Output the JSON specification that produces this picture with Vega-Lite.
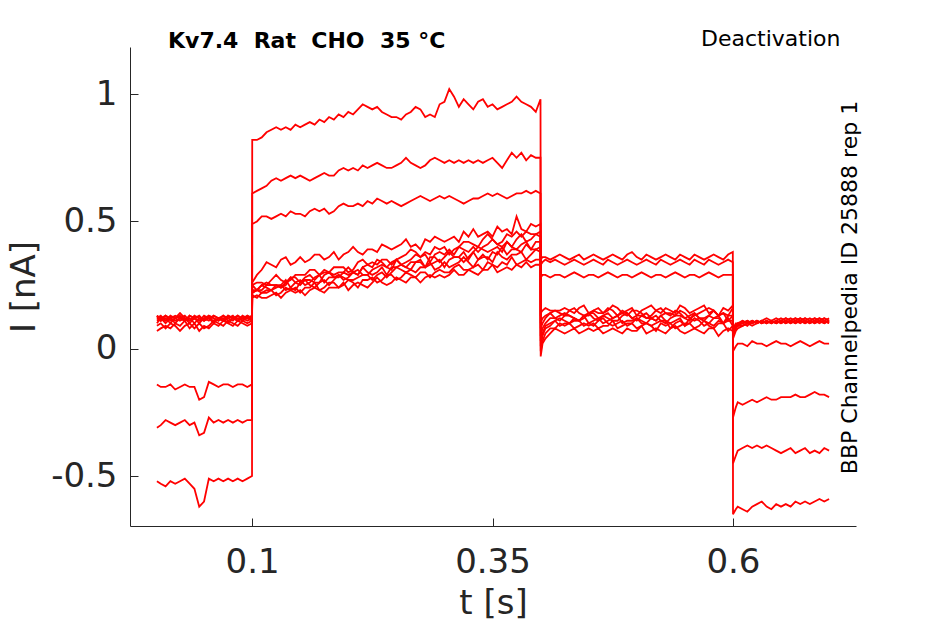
{
  "$schema": "https://vega.github.io/schema/vega-lite/v6.json",
  "description": "Kv7.4 deactivation current traces",
  "width": 726,
  "height": 479,
  "autosize": {"type": "none"},
  "padding": {"left": 130, "top": 47, "right": 89, "bottom": 98},
  "background": "white",
  "config": {
    "view": {"stroke": null},
    "font": "DejaVu Sans",
    "axis": {"grid": false}
  },
  "title": {
    "text": "Kv7.4\u00a0\u00a0Rat\u00a0\u00a0CHO\u00a0\u00a035\u00a0°C",
    "anchor": "start",
    "frame": "group",
    "dx": 38,
    "offset": -43,
    "baseline": "alphabetic",
    "font": "DejaVu Sans",
    "fontSize": 22,
    "fontWeight": "bold",
    "color": "black"
  },
  "data": {
    "values": [
      {"t":0.001,"a":-0.52,"b":-0.31,"c":-0.14,"d":0.12,"e":0.13,"f":0.11,"g":0.12,"h":0.10,"i":0.13,"j":0.07,"k":0.09},
      {"t":0.005,"a":-0.53,"b":-0.30,"c":-0.15,"d":0.13,"e":0.12,"f":0.12,"g":0.11,"h":0.12,"i":0.11,"j":0.08,"k":0.10},
      {"t":0.01,"a":-0.54,"b":-0.28,"c":-0.15,"d":0.11,"e":0.13,"f":0.10,"g":0.13,"h":0.11,"i":0.12,"j":0.09,"k":0.08},
      {"t":0.015,"a":-0.52,"b":-0.29,"c":-0.14,"d":0.12,"e":0.11,"f":0.12,"g":0.12,"h":0.13,"i":0.10,"j":0.08,"k":0.10},
      {"t":0.02,"a":-0.53,"b":-0.30,"c":-0.16,"d":0.13,"e":0.12,"f":0.11,"g":0.10,"h":0.12,"i":0.12,"j":0.10,"k":0.09},
      {"t":0.025,"a":-0.52,"b":-0.29,"c":-0.15,"d":0.12,"e":0.14,"f":0.12,"g":0.12,"h":0.11,"i":0.13,"j":0.09,"k":0.07},
      {"t":0.03,"a":-0.51,"b":-0.28,"c":-0.14,"d":0.11,"e":0.12,"f":0.13,"g":0.11,"h":0.12,"i":0.11,"j":0.11,"k":0.09},
      {"t":0.035,"a":-0.53,"b":-0.30,"c":-0.15,"d":0.13,"e":0.11,"f":0.11,"g":0.13,"h":0.10,"i":0.12,"j":0.08,"k":0.10},
      {"t":0.04,"a":-0.55,"b":-0.29,"c":-0.15,"d":0.12,"e":0.13,"f":0.12,"g":0.12,"h":0.12,"i":0.10,"j":0.10,"k":0.08},
      {"t":0.045,"a":-0.62,"b":-0.34,"c":-0.20,"d":0.11,"e":0.12,"f":0.10,"g":0.11,"h":0.13,"i":0.12,"j":0.07,"k":0.10},
      {"t":0.05,"a":-0.60,"b":-0.33,"c":-0.19,"d":0.12,"e":0.11,"f":0.12,"g":0.13,"h":0.11,"i":0.11,"j":0.09,"k":0.08},
      {"t":0.055,"a":-0.51,"b":-0.27,"c":-0.13,"d":0.13,"e":0.12,"f":0.11,"g":0.12,"h":0.12,"i":0.13,"j":0.08,"k":0.09},
      {"t":0.06,"a":-0.52,"b":-0.29,"c":-0.14,"d":0.12,"e":0.13,"f":0.13,"g":0.11,"h":0.10,"i":0.12,"j":0.10,"k":0.11},
      {"t":0.065,"a":-0.51,"b":-0.28,"c":-0.15,"d":0.11,"e":0.12,"f":0.12,"g":0.12,"h":0.12,"i":0.11,"j":0.09,"k":0.10},
      {"t":0.07,"a":-0.52,"b":-0.29,"c":-0.14,"d":0.13,"e":0.11,"f":0.11,"g":0.13,"h":0.11,"i":0.12,"j":0.11,"k":0.09},
      {"t":0.075,"a":-0.51,"b":-0.28,"c":-0.14,"d":0.12,"e":0.13,"f":0.12,"g":0.11,"h":0.13,"i":0.10,"j":0.10,"k":0.11},
      {"t":0.08,"a":-0.52,"b":-0.29,"c":-0.15,"d":0.11,"e":0.12,"f":0.13,"g":0.12,"h":0.12,"i":0.12,"j":0.09,"k":0.10},
      {"t":0.085,"a":-0.51,"b":-0.28,"c":-0.14,"d":0.13,"e":0.11,"f":0.11,"g":0.12,"h":0.11,"i":0.13,"j":0.11,"k":0.09},
      {"t":0.09,"a":-0.52,"b":-0.29,"c":-0.14,"d":0.12,"e":0.13,"f":0.12,"g":0.11,"h":0.12,"i":0.11,"j":0.10,"k":0.11},
      {"t":0.095,"a":-0.51,"b":-0.28,"c":-0.15,"d":0.11,"e":0.12,"f":0.13,"g":0.13,"h":0.12,"i":0.12,"j":0.09,"k":0.10},
      {"t":0.0999,"a":-0.50,"b":-0.28,"c":-0.14,"d":0.12,"e":0.13,"f":0.12,"g":0.12,"h":0.11,"i":0.12,"j":0.10,"k":0.11},
      {"t":0.1001,"a":0.82,"b":0.61,"c":0.49,"d":0.26,"e":0.25,"f":0.25,"g":0.23,"h":0.22,"i":0.22,"j":0.21,"k":0.20},
      {"t":0.105,"a":0.82,"b":0.62,"c":0.50,"d":0.29,"e":0.26,"f":0.23,"g":0.23,"h":0.23,"i":0.23,"j":0.20,"k":0.21},
      {"t":0.11,"a":0.83,"b":0.63,"c":0.52,"d":0.31,"e":0.26,"f":0.25,"g":0.23,"h":0.25,"i":0.22,"j":0.22,"k":0.20},
      {"t":0.115,"a":0.85,"b":0.64,"c":0.52,"d":0.34,"e":0.25,"f":0.26,"g":0.25,"h":0.24,"i":0.23,"j":0.22,"k":0.20},
      {"t":0.12,"a":0.86,"b":0.66,"c":0.51,"d":0.33,"e":0.27,"f":0.25,"g":0.25,"h":0.23,"i":0.23,"j":0.23,"k":0.21},
      {"t":0.125,"a":0.87,"b":0.67,"c":0.52,"d":0.32,"e":0.29,"f":0.25,"g":0.25,"h":0.25,"i":0.24,"j":0.21,"k":0.22},
      {"t":0.13,"a":0.86,"b":0.66,"c":0.53,"d":0.35,"e":0.27,"f":0.24,"g":0.24,"h":0.25,"i":0.25,"j":0.22,"k":0.20},
      {"t":0.135,"a":0.87,"b":0.67,"c":0.52,"d":0.36,"e":0.26,"f":0.26,"g":0.25,"h":0.27,"i":0.23,"j":0.24,"k":0.22},
      {"t":0.14,"a":0.86,"b":0.68,"c":0.54,"d":0.33,"e":0.27,"f":0.28,"g":0.28,"h":0.24,"i":0.24,"j":0.23,"k":0.23},
      {"t":0.145,"a":0.88,"b":0.67,"c":0.53,"d":0.34,"e":0.29,"f":0.28,"g":0.26,"h":0.26,"i":0.23,"j":0.24,"k":0.22},
      {"t":0.15,"a":0.87,"b":0.68,"c":0.53,"d":0.36,"e":0.29,"f":0.26,"g":0.25,"h":0.27,"i":0.26,"j":0.22,"k":0.23},
      {"t":0.155,"a":0.88,"b":0.67,"c":0.52,"d":0.34,"e":0.29,"f":0.28,"g":0.27,"h":0.25,"i":0.27,"j":0.24,"k":0.21},
      {"t":0.16,"a":0.89,"b":0.66,"c":0.54,"d":0.35,"e":0.31,"f":0.29,"g":0.27,"h":0.26,"i":0.25,"j":0.24,"k":0.23},
      {"t":0.165,"a":0.88,"b":0.67,"c":0.55,"d":0.37,"e":0.31,"f":0.27,"g":0.26,"h":0.28,"i":0.24,"j":0.26,"k":0.24},
      {"t":0.17,"a":0.90,"b":0.68,"c":0.54,"d":0.37,"e":0.29,"f":0.29,"g":0.26,"h":0.29,"i":0.26,"j":0.23,"k":0.23},
      {"t":0.175,"a":0.89,"b":0.69,"c":0.55,"d":0.35,"e":0.30,"f":0.31,"g":0.29,"h":0.26,"i":0.27,"j":0.24,"k":0.22},
      {"t":0.18,"a":0.91,"b":0.68,"c":0.53,"d":0.36,"e":0.30,"f":0.30,"g":0.30,"h":0.28,"i":0.25,"j":0.26,"k":0.24},
      {"t":0.185,"a":0.90,"b":0.68,"c":0.54,"d":0.38,"e":0.32,"f":0.29,"g":0.28,"h":0.28,"i":0.27,"j":0.26,"k":0.24},
      {"t":0.19,"a":0.92,"b":0.70,"c":0.56,"d":0.35,"e":0.32,"f":0.30,"g":0.28,"h":0.29,"i":0.29,"j":0.24,"k":0.24},
      {"t":0.195,"a":0.91,"b":0.71,"c":0.57,"d":0.37,"e":0.32,"f":0.30,"g":0.30,"h":0.27,"i":0.28,"j":0.25,"k":0.26},
      {"t":0.2,"a":0.93,"b":0.70,"c":0.56,"d":0.38,"e":0.30,"f":0.32,"g":0.29,"h":0.28,"i":0.27,"j":0.27,"k":0.23},
      {"t":0.205,"a":0.92,"b":0.71,"c":0.56,"d":0.40,"e":0.31,"f":0.30,"g":0.30,"h":0.30,"i":0.27,"j":0.26,"k":0.25},
      {"t":0.21,"a":0.94,"b":0.70,"c":0.57,"d":0.38,"e":0.34,"f":0.29,"g":0.31,"h":0.29,"i":0.28,"j":0.24,"k":0.26},
      {"t":0.215,"a":0.96,"b":0.72,"c":0.56,"d":0.37,"e":0.35,"f":0.32,"g":0.29,"h":0.32,"i":0.29,"j":0.27,"k":0.25},
      {"t":0.22,"a":0.95,"b":0.71,"c":0.58,"d":0.39,"e":0.33,"f":0.33,"g":0.29,"h":0.30,"i":0.29,"j":0.27,"k":0.24},
      {"t":0.225,"a":0.94,"b":0.72,"c":0.57,"d":0.39,"e":0.34,"f":0.32,"g":0.31,"h":0.29,"i":0.27,"j":0.28,"k":0.26},
      {"t":0.23,"a":0.95,"b":0.73,"c":0.59,"d":0.38,"e":0.33,"f":0.35,"g":0.32,"h":0.30,"i":0.29,"j":0.26,"k":0.28},
      {"t":0.235,"a":0.93,"b":0.72,"c":0.58,"d":0.41,"e":0.35,"f":0.34,"g":0.33,"h":0.32,"i":0.30,"j":0.27,"k":0.26},
      {"t":0.24,"a":0.92,"b":0.71,"c":0.57,"d":0.40,"e":0.35,"f":0.32,"g":0.32,"h":0.29,"i":0.28,"j":0.29,"k":0.25},
      {"t":0.245,"a":0.91,"b":0.71,"c":0.58,"d":0.39,"e":0.33,"f":0.34,"g":0.31,"h":0.32,"i":0.30,"j":0.29,"k":0.26},
      {"t":0.25,"a":0.91,"b":0.72,"c":0.57,"d":0.40,"e":0.35,"f":0.35,"g":0.35,"h":0.32,"i":0.32,"j":0.27,"k":0.28},
      {"t":0.255,"a":0.90,"b":0.73,"c":0.56,"d":0.41,"e":0.36,"f":0.33,"g":0.33,"h":0.33,"i":0.31,"j":0.28,"k":0.27},
      {"t":0.26,"a":0.92,"b":0.75,"c":0.57,"d":0.43,"e":0.37,"f":0.34,"g":0.32,"h":0.32,"i":0.30,"j":0.30,"k":0.26},
      {"t":0.265,"a":0.93,"b":0.73,"c":0.58,"d":0.40,"e":0.39,"f":0.35,"g":0.34,"h":0.31,"i":0.31,"j":0.29,"k":0.28},
      {"t":0.27,"a":0.95,"b":0.72,"c":0.59,"d":0.41,"e":0.38,"f":0.37,"g":0.34,"h":0.34,"i":0.30,"j":0.28,"k":0.28},
      {"t":0.275,"a":0.94,"b":0.71,"c":0.60,"d":0.39,"e":0.36,"f":0.36,"g":0.34,"h":0.35,"i":0.32,"j":0.30,"k":0.26},
      {"t":0.28,"a":0.91,"b":0.72,"c":0.59,"d":0.43,"e":0.38,"f":0.37,"g":0.32,"h":0.32,"i":0.32,"j":0.30,"k":0.28},
      {"t":0.285,"a":0.92,"b":0.74,"c":0.58,"d":0.42,"e":0.37,"f":0.34,"g":0.36,"h":0.33,"i":0.34,"j":0.28,"k":0.29},
      {"t":0.29,"a":0.91,"b":0.75,"c":0.59,"d":0.44,"e":0.40,"f":0.37,"g":0.36,"h":0.34,"i":0.31,"j":0.30,"k":0.28},
      {"t":0.295,"a":0.96,"b":0.74,"c":0.60,"d":0.43,"e":0.39,"f":0.38,"g":0.34,"h":0.35,"i":0.32,"j":0.31,"k":0.29},
      {"t":0.3,"a":0.97,"b":0.73,"c":0.59,"d":0.42,"e":0.40,"f":0.37,"g":0.36,"h":0.32,"i":0.34,"j":0.30,"k":0.28},
      {"t":0.305,"a":1.02,"b":0.74,"c":0.60,"d":0.43,"e":0.37,"f":0.39,"g":0.38,"h":0.35,"i":0.32,"j":0.30,"k":0.29},
      {"t":0.31,"a":0.99,"b":0.73,"c":0.59,"d":0.44,"e":0.39,"f":0.37,"g":0.36,"h":0.36,"i":0.33,"j":0.32,"k":0.31},
      {"t":0.315,"a":0.95,"b":0.74,"c":0.58,"d":0.42,"e":0.40,"f":0.40,"g":0.36,"h":0.36,"i":0.34,"j":0.33,"k":0.29},
      {"t":0.32,"a":0.98,"b":0.73,"c":0.57,"d":0.46,"e":0.42,"f":0.39,"g":0.38,"h":0.34,"i":0.36,"j":0.31,"k":0.29},
      {"t":0.325,"a":0.96,"b":0.74,"c":0.58,"d":0.44,"e":0.42,"f":0.38,"g":0.35,"h":0.36,"i":0.34,"j":0.31,"k":0.31},
      {"t":0.33,"a":0.94,"b":0.73,"c":0.59,"d":0.47,"e":0.41,"f":0.40,"g":0.38,"h":0.38,"i":0.32,"j":0.32,"k":0.30},
      {"t":0.335,"a":0.97,"b":0.74,"c":0.59,"d":0.44,"e":0.40,"f":0.38,"g":0.40,"h":0.35,"i":0.35,"j":0.33,"k":0.29},
      {"t":0.34,"a":0.98,"b":0.73,"c":0.60,"d":0.45,"e":0.43,"f":0.40,"g":0.39,"h":0.37,"i":0.36,"j":0.31,"k":0.31},
      {"t":0.345,"a":0.95,"b":0.74,"c":0.61,"d":0.46,"e":0.45,"f":0.41,"g":0.38,"h":0.35,"i":0.36,"j":0.34,"k":0.31},
      {"t":0.35,"a":0.96,"b":0.75,"c":0.60,"d":0.44,"e":0.43,"f":0.43,"g":0.39,"h":0.38,"i":0.34,"j":0.33,"k":0.33},
      {"t":0.355,"a":0.94,"b":0.73,"c":0.61,"d":0.48,"e":0.41,"f":0.41,"g":0.40,"h":0.37,"i":0.38,"j":0.32,"k":0.30},
      {"t":0.36,"a":0.95,"b":0.71,"c":0.60,"d":0.46,"e":0.42,"f":0.40,"g":0.38,"h":0.40,"i":0.36,"j":0.34,"k":0.31},
      {"t":0.365,"a":0.96,"b":0.74,"c":0.59,"d":0.47,"e":0.45,"f":0.42,"g":0.42,"h":0.37,"i":0.35,"j":0.33,"k":0.32},
      {"t":0.37,"a":0.97,"b":0.77,"c":0.60,"d":0.45,"e":0.44,"f":0.40,"g":0.40,"h":0.39,"i":0.37,"j":0.36,"k":0.31},
      {"t":0.375,"a":0.99,"b":0.75,"c":0.61,"d":0.52,"e":0.46,"f":0.43,"g":0.39,"h":0.39,"i":0.37,"j":0.33,"k":0.33},
      {"t":0.38,"a":0.97,"b":0.77,"c":0.61,"d":0.47,"e":0.44,"f":0.45,"g":0.41,"h":0.38,"i":0.38,"j":0.34,"k":0.32},
      {"t":0.385,"a":0.96,"b":0.74,"c":0.62,"d":0.46,"e":0.46,"f":0.42,"g":0.42,"h":0.41,"i":0.35,"j":0.35,"k":0.34},
      {"t":0.39,"a":0.95,"b":0.76,"c":0.61,"d":0.49,"e":0.45,"f":0.43,"g":0.39,"h":0.39,"i":0.37,"j":0.34,"k":0.32},
      {"t":0.395,"a":0.93,"b":0.75,"c":0.62,"d":0.48,"e":0.45,"f":0.45,"g":0.42,"h":0.39,"i":0.39,"j":0.35,"k":0.33},
      {"t":0.3999,"a":0.98,"b":0.75,"c":0.61,"d":0.49,"e":0.46,"f":0.44,"g":0.42,"h":0.40,"i":0.38,"j":0.35,"k":0.33},
      {"t":0.4001,"a":0.35,"b":0.33,"c":0.28,"d":0.14,"e":0.10,"f":0.08,"g":0.05,"h":0.03,"i":0.01,"j":-0.01,"k":-0.03},
      {"t":0.402,"a":0.36,"b":0.34,"c":0.29,"d":0.15,"e":0.12,"f":0.10,"g":0.08,"h":0.06,"i":0.05,"j":0.03,"k":0.02},
      {"t":0.405,"a":0.36,"b":0.35,"c":0.29,"d":0.16,"e":0.13,"f":0.12,"g":0.10,"h":0.09,"i":0.08,"j":0.06,"k":0.04},
      {"t":0.41,"a":0.35,"b":0.34,"c":0.28,"d":0.15,"e":0.14,"f":0.14,"g":0.12,"h":0.10,"i":0.09,"j":0.08,"k":0.06},
      {"t":0.415,"a":0.36,"b":0.35,"c":0.29,"d":0.15,"e":0.15,"f":0.12,"g":0.12,"h":0.11,"i":0.11,"j":0.08,"k":0.08},
      {"t":0.42,"a":0.37,"b":0.34,"c":0.29,"d":0.15,"e":0.14,"f":0.13,"g":0.11,"h":0.12,"i":0.09,"j":0.10,"k":0.07},
      {"t":0.425,"a":0.36,"b":0.33,"c":0.28,"d":0.16,"e":0.13,"f":0.14,"g":0.13,"h":0.11,"i":0.10,"j":0.09,"k":0.06},
      {"t":0.43,"a":0.35,"b":0.34,"c":0.29,"d":0.15,"e":0.15,"f":0.13,"g":0.13,"h":0.10,"i":0.10,"j":0.10,"k":0.07},
      {"t":0.435,"a":0.36,"b":0.35,"c":0.30,"d":0.14,"e":0.16,"f":0.12,"g":0.12,"h":0.12,"i":0.11,"j":0.08,"k":0.08},
      {"t":0.44,"a":0.37,"b":0.34,"c":0.29,"d":0.16,"e":0.14,"f":0.11,"g":0.11,"h":0.11,"i":0.11,"j":0.09,"k":0.06},
      {"t":0.445,"a":0.35,"b":0.33,"c":0.28,"d":0.17,"e":0.13,"f":0.13,"g":0.12,"h":0.13,"i":0.09,"j":0.10,"k":0.07},
      {"t":0.45,"a":0.36,"b":0.34,"c":0.29,"d":0.14,"e":0.13,"f":0.14,"g":0.14,"h":0.10,"i":0.10,"j":0.09,"k":0.08},
      {"t":0.455,"a":0.37,"b":0.35,"c":0.29,"d":0.15,"e":0.15,"f":0.14,"g":0.12,"h":0.11,"i":0.09,"j":0.10,"k":0.07},
      {"t":0.46,"a":0.36,"b":0.34,"c":0.28,"d":0.16,"e":0.14,"f":0.12,"g":0.11,"h":0.12,"i":0.11,"j":0.08,"k":0.08},
      {"t":0.465,"a":0.35,"b":0.33,"c":0.29,"d":0.14,"e":0.14,"f":0.13,"g":0.13,"h":0.10,"i":0.12,"j":0.09,"k":0.06},
      {"t":0.47,"a":0.36,"b":0.35,"c":0.30,"d":0.15,"e":0.16,"f":0.14,"g":0.12,"h":0.11,"i":0.10,"j":0.09,"k":0.07},
      {"t":0.475,"a":0.37,"b":0.34,"c":0.29,"d":0.17,"e":0.15,"f":0.12,"g":0.11,"h":0.12,"i":0.09,"j":0.11,"k":0.08},
      {"t":0.48,"a":0.36,"b":0.33,"c":0.28,"d":0.16,"e":0.13,"f":0.13,"g":0.11,"h":0.13,"i":0.10,"j":0.08,"k":0.07},
      {"t":0.485,"a":0.35,"b":0.34,"c":0.29,"d":0.14,"e":0.14,"f":0.15,"g":0.13,"h":0.10,"i":0.11,"j":0.09,"k":0.06},
      {"t":0.49,"a":0.37,"b":0.35,"c":0.29,"d":0.15,"e":0.13,"f":0.14,"g":0.14,"h":0.11,"i":0.09,"j":0.10,"k":0.08},
      {"t":0.495,"a":0.38,"b":0.34,"c":0.28,"d":0.16,"e":0.15,"f":0.12,"g":0.12,"h":0.11,"i":0.10,"j":0.10,"k":0.07},
      {"t":0.5,"a":0.36,"b":0.33,"c":0.29,"d":0.13,"e":0.15,"f":0.13,"g":0.11,"h":0.12,"i":0.12,"j":0.08,"k":0.07},
      {"t":0.505,"a":0.35,"b":0.34,"c":0.30,"d":0.15,"e":0.14,"f":0.13,"g":0.13,"h":0.10,"i":0.11,"j":0.09,"k":0.09},
      {"t":0.51,"a":0.37,"b":0.35,"c":0.29,"d":0.16,"e":0.12,"f":0.14,"g":0.12,"h":0.10,"i":0.10,"j":0.10,"k":0.06},
      {"t":0.515,"a":0.36,"b":0.34,"c":0.28,"d":0.17,"e":0.13,"f":0.12,"g":0.12,"h":0.12,"i":0.09,"j":0.09,"k":0.07},
      {"t":0.52,"a":0.35,"b":0.33,"c":0.29,"d":0.15,"e":0.15,"f":0.11,"g":0.13,"h":0.11,"i":0.10,"j":0.07,"k":0.08},
      {"t":0.525,"a":0.36,"b":0.35,"c":0.29,"d":0.14,"e":0.16,"f":0.13,"g":0.11,"h":0.13,"i":0.11,"j":0.10,"k":0.07},
      {"t":0.53,"a":0.37,"b":0.34,"c":0.28,"d":0.16,"e":0.14,"f":0.14,"g":0.10,"h":0.11,"i":0.11,"j":0.09,"k":0.06},
      {"t":0.535,"a":0.36,"b":0.33,"c":0.29,"d":0.15,"e":0.14,"f":0.13,"g":0.12,"h":0.10,"i":0.08,"j":0.10,"k":0.08},
      {"t":0.54,"a":0.35,"b":0.34,"c":0.30,"d":0.14,"e":0.13,"f":0.15,"g":0.13,"h":0.11,"i":0.10,"j":0.08,"k":0.09},
      {"t":0.545,"a":0.37,"b":0.35,"c":0.29,"d":0.17,"e":0.15,"f":0.14,"g":0.13,"h":0.12,"i":0.11,"j":0.09,"k":0.07},
      {"t":0.55,"a":0.36,"b":0.34,"c":0.28,"d":0.16,"e":0.14,"f":0.12,"g":0.12,"h":0.09,"i":0.09,"j":0.10,"k":0.06},
      {"t":0.555,"a":0.35,"b":0.33,"c":0.29,"d":0.14,"e":0.12,"f":0.13,"g":0.11,"h":0.12,"i":0.10,"j":0.10,"k":0.07},
      {"t":0.56,"a":0.37,"b":0.35,"c":0.29,"d":0.15,"e":0.13,"f":0.14,"g":0.14,"h":0.11,"i":0.12,"j":0.08,"k":0.08},
      {"t":0.565,"a":0.36,"b":0.34,"c":0.28,"d":0.16,"e":0.14,"f":0.12,"g":0.12,"h":0.12,"i":0.11,"j":0.09,"k":0.07},
      {"t":0.57,"a":0.35,"b":0.33,"c":0.29,"d":0.17,"e":0.15,"f":0.12,"g":0.11,"h":0.11,"i":0.09,"j":0.11,"k":0.06},
      {"t":0.575,"a":0.36,"b":0.35,"c":0.30,"d":0.14,"e":0.16,"f":0.13,"g":0.13,"h":0.10,"i":0.10,"j":0.09,"k":0.08},
      {"t":0.58,"a":0.37,"b":0.34,"c":0.29,"d":0.15,"e":0.15,"f":0.15,"g":0.12,"h":0.12,"i":0.09,"j":0.08,"k":0.08},
      {"t":0.585,"a":0.36,"b":0.33,"c":0.28,"d":0.13,"e":0.13,"f":0.13,"g":0.12,"h":0.13,"i":0.11,"j":0.10,"k":0.05},
      {"t":0.59,"a":0.35,"b":0.34,"c":0.29,"d":0.16,"e":0.14,"f":0.14,"g":0.10,"h":0.10,"i":0.10,"j":0.10,"k":0.07},
      {"t":0.595,"a":0.37,"b":0.35,"c":0.29,"d":0.15,"e":0.13,"f":0.11,"g":0.13,"h":0.11,"i":0.12,"j":0.07,"k":0.08},
      {"t":0.5999,"a":0.38,"b":0.34,"c":0.29,"d":0.17,"e":0.16,"f":0.13,"g":0.13,"h":0.11,"i":0.09,"j":0.09,"k":0.07},
      {"t":0.6001,"a":-0.65,"b":-0.45,"c":-0.27,"d":0.08,"e":0.07,"f":0.06,"g":0.07,"h":0.05,"i":0.06,"j":-0.01,"k":0.04},
      {"t":0.603,"a":-0.63,"b":-0.42,"c":-0.23,"d":0.10,"e":0.09,"f":0.09,"g":0.08,"h":0.09,"i":0.08,"j":0.01,"k":0.07},
      {"t":0.605,"a":-0.62,"b":-0.40,"c":-0.21,"d":0.10,"e":0.10,"f":0.09,"g":0.10,"h":0.09,"i":0.09,"j":0.02,"k":0.08},
      {"t":0.61,"a":-0.63,"b":-0.39,"c":-0.22,"d":0.11,"e":0.10,"f":0.11,"g":0.10,"h":0.10,"i":0.09,"j":0.02,"k":0.09},
      {"t":0.615,"a":-0.64,"b":-0.38,"c":-0.21,"d":0.10,"e":0.11,"f":0.10,"g":0.11,"h":0.09,"i":0.10,"j":0.01,"k":0.10},
      {"t":0.62,"a":-0.62,"b":-0.39,"c":-0.20,"d":0.11,"e":0.10,"f":0.11,"g":0.10,"h":0.11,"i":0.10,"j":0.03,"k":0.09},
      {"t":0.625,"a":-0.61,"b":-0.38,"c":-0.21,"d":0.10,"e":0.11,"f":0.10,"g":0.11,"h":0.10,"i":0.11,"j":0.02,"k":0.10},
      {"t":0.63,"a":-0.60,"b":-0.39,"c":-0.20,"d":0.11,"e":0.10,"f":0.11,"g":0.10,"h":0.11,"i":0.10,"j":0.02,"k":0.11},
      {"t":0.635,"a":-0.62,"b":-0.38,"c":-0.19,"d":0.12,"e":0.11,"f":0.10,"g":0.11,"h":0.10,"i":0.11,"j":0.01,"k":0.10},
      {"t":0.64,"a":-0.63,"b":-0.39,"c":-0.20,"d":0.11,"e":0.10,"f":0.11,"g":0.10,"h":0.11,"i":0.10,"j":0.02,"k":0.11},
      {"t":0.645,"a":-0.61,"b":-0.40,"c":-0.20,"d":0.10,"e":0.11,"f":0.12,"g":0.11,"h":0.10,"i":0.11,"j":0.03,"k":0.10},
      {"t":0.65,"a":-0.62,"b":-0.41,"c":-0.19,"d":0.11,"e":0.12,"f":0.11,"g":0.10,"h":0.11,"i":0.10,"j":0.02,"k":0.11},
      {"t":0.655,"a":-0.61,"b":-0.40,"c":-0.19,"d":0.12,"e":0.11,"f":0.10,"g":0.11,"h":0.12,"i":0.11,"j":0.02,"k":0.10},
      {"t":0.66,"a":-0.62,"b":-0.39,"c":-0.19,"d":0.11,"e":0.10,"f":0.11,"g":0.12,"h":0.11,"i":0.10,"j":0.01,"k":0.11},
      {"t":0.665,"a":-0.60,"b":-0.41,"c":-0.18,"d":0.10,"e":0.11,"f":0.12,"g":0.11,"h":0.10,"i":0.11,"j":0.02,"k":0.12},
      {"t":0.67,"a":-0.61,"b":-0.40,"c":-0.19,"d":0.11,"e":0.12,"f":0.11,"g":0.10,"h":0.11,"i":0.12,"j":0.03,"k":0.11},
      {"t":0.675,"a":-0.60,"b":-0.39,"c":-0.19,"d":0.12,"e":0.11,"f":0.10,"g":0.11,"h":0.12,"i":0.11,"j":0.02,"k":0.10},
      {"t":0.68,"a":-0.61,"b":-0.41,"c":-0.18,"d":0.11,"e":0.10,"f":0.11,"g":0.12,"h":0.11,"i":0.10,"j":0.01,"k":0.11},
      {"t":0.685,"a":-0.60,"b":-0.40,"c":-0.17,"d":0.10,"e":0.11,"f":0.12,"g":0.11,"h":0.10,"i":0.11,"j":0.02,"k":0.12},
      {"t":0.69,"a":-0.59,"b":-0.41,"c":-0.18,"d":0.11,"e":0.12,"f":0.11,"g":0.10,"h":0.11,"i":0.12,"j":0.03,"k":0.11},
      {"t":0.695,"a":-0.60,"b":-0.39,"c":-0.18,"d":0.12,"e":0.11,"f":0.10,"g":0.11,"h":0.12,"i":0.11,"j":0.02,"k":0.10},
      {"t":0.7,"a":-0.59,"b":-0.40,"c":-0.19,"d":0.11,"e":0.10,"f":0.11,"g":0.12,"h":0.11,"i":0.10,"j":0.02,"k":0.11}
    ]
  },
  "transform": [
    {"fold": ["a", "b", "c", "d", "e", "f", "g", "h", "i", "j", "k"], "as": ["trace", "I"]}
  ],
  "resolve": {"axis": {"x": "independent", "y": "independent"}},
  "layer": [
    {
      "transform": [{"filter": "indexof(['a','b','c','d','e','f'], datum.trace) >= 0"}],
      "mark": {"type": "line", "color": "#ff0000", "strokeWidth": 1.8, "clip": true},
      "encoding": {
        "x": {
          "field": "t",
          "type": "quantitative",
          "scale": {"domain": [-0.027, 0.728], "nice": false, "zero": false},
          "axis": {
            "orient": "bottom",
            "values": [0.1, 0.35, 0.6],
            "labelExpr": "datum.value < 0 ? '-' + toString(-datum.value) : toString(datum.value)",
            "title": "t [s]",
            "domainColor": "#262626",
            "tickColor": "#262626",
            "tickSize": -8,
            "labelPadding": 27,
            "labelFontSize": 34,
            "labelColor": "#262626",
            "titleFontSize": 34,
            "titleFontWeight": "normal",
            "titleColor": "#262626",
            "titlePadding": 7
          }
        },
        "y": {
          "field": "I",
          "type": "quantitative",
          "scale": {"domain": [-0.696, 1.185], "nice": false, "zero": false},
          "axis": {
            "orient": "left",
            "values": [-0.5, 0, 0.5, 1],
            "labelExpr": "datum.value < 0 ? '-' + toString(-datum.value) : toString(datum.value)",
            "title": "I [nA]",
            "domainColor": "#262626",
            "tickColor": "#262626",
            "tickSize": -8,
            "labelPadding": 21,
            "labelFontSize": 34,
            "labelColor": "#262626",
            "titleFontSize": 34,
            "titleFontWeight": "normal",
            "titleColor": "#262626",
            "titlePadding": 9
          }
        },
        "detail": {"field": "trace"},
        "order": {"field": "t"}
      }
    },
    {
      "transform": [{"filter": "indexof(['g','h','i','j','k'], datum.trace) >= 0"}],
      "mark": {"type": "line", "color": "#ff0000", "strokeWidth": 1.8, "clip": true},
      "encoding": {
        "x": {
          "field": "t",
          "type": "quantitative",
          "scale": {"domain": [-0.027, 0.728], "nice": false, "zero": false},
          "axis": {
            "orient": "top",
            "title": "Deactivation",
            "domain": false,
            "ticks": false,
            "labels": false,
            "titleFontSize": 22,
            "titleFontWeight": "normal",
            "titleColor": "black",
            "titleAlign": "right",
            "titleAnchor": "end",
            "titleX": 710,
            "titleY": -2,
            "titleBaseline": "alphabetic"
          }
        },
        "y": {
          "field": "I",
          "type": "quantitative",
          "scale": {"domain": [-0.696, 1.185], "nice": false, "zero": false},
          "axis": {
            "orient": "right",
            "title": "BBP Channelpedia ID 25888 rep 1",
            "domain": false,
            "ticks": false,
            "labels": false,
            "titleFontSize": 22,
            "titleFontWeight": "normal",
            "titleColor": "black",
            "titleAngle": 270,
            "titleAlign": "center",
            "titleBaseline": "alphabetic",
            "titleX": 0,
            "titleY": 240
          }
        },
        "detail": {"field": "trace"},
        "order": {"field": "t"}
      }
    }
  ]
}
